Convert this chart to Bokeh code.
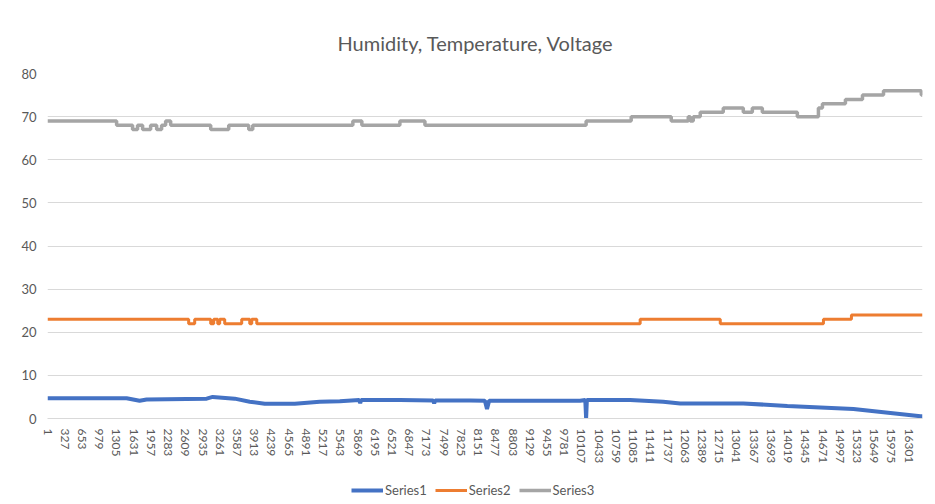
from bokeh.plotting import figure
from bokeh.layouts import column
from bokeh.models import Range1d, FixedTicker, Legend, LegendItem
from bokeh.embed import file_html
from bokeh.resources import INLINE

# ---- data ----
x_labels = [1 + 326 * k for k in range(51)]  # tick labels 1, 327, ... 16301
x_end = 16563

s1_x = [1, 1498, 1744, 1877, 3014, 3128, 3545, 3829, 4113, 4682, 5155, 5534,
        5900, 5920, 5940, 6671, 7300, 7320, 7340, 7998,
        8280, 8320, 8360, 8623, 10082, 10180, 10196, 10210, 10367, 11030, 11655, 11977,
        13171, 14005, 15256, 16526, 16563]
s1_y = [4.7, 4.7, 4.1, 4.4, 4.6, 5.0, 4.6, 3.9, 3.4, 3.4, 3.9, 4.0,
        4.3, 3.6, 4.3, 4.3, 4.2, 3.5, 4.2, 4.2,
        4.1, 2.2, 4.1, 4.1, 4.1, 4.3, 0.0, 4.3, 4.3, 4.3, 3.9, 3.5,
        3.5, 2.9, 2.2, 0.5, 0.5]

s2_x = [1, 2673, 2787, 3090, 3147, 3223, 3260, 3355, 3677, 3829, 3867, 3962, 11219, 12735,
        14688, 15218, 16563]
s2_y = [23, 22, 23, 22, 23, 22, 23, 22, 23, 22, 23, 22, 23, 22,
        23, 24, 24]

s3_x = [1, 1309, 1611, 1706, 1801, 1953, 2067, 2161, 2237, 2332, 3090, 3431, 3810, 3886,
        5781, 5951, 6671, 7145, 10196, 11049, 11807, 12129, 12167, 12224, 12356, 12792,
        13171, 13342, 13531, 14194, 14593, 14669, 15104, 15427, 15825, 16540, 16563]
s3_y = [69, 68, 67, 68, 67, 68, 67, 68, 69, 68, 67, 68, 67, 68,
        69, 68, 69, 68, 69, 70, 69, 70, 69, 70, 71, 72,
        71, 72, 71, 70, 72, 73, 74, 75, 76, 75, 75]

y_ticks = [0, 10, 20, 30, 40, 50, 60, 70, 80]
series_names = ["Series1", "Series2", "Series3"]
series_colors = ["#4472C4", "#ED7D31", "#A5A5A5"]

FONT = "Lato"
TXT = "#595959"

p = figure(frame_width=875, frame_height=345, output_backend="svg", toolbar_location=None,
           x_range=Range1d(1, x_end), y_range=Range1d(0, 80),
           min_border_left=47, min_border_right=5, min_border_top=73, min_border_bottom=62,
           title="Humidity, Temperature, Voltage")
p.outline_line_color = None
p.title.align = "left"
p.title.text_font = FONT
p.title.text_font_size = "20px"
p.title.text_font_style = "normal"
p.title.text_color = TXT
p.title.standoff = 38
p.title.offset = 290

p.line(s1_x, s1_y, line_color=series_colors[0], line_width=4)
p.step(s2_x, s2_y, mode="after", line_color=series_colors[1], line_width=3)
p.step(s3_x, s3_y, mode="after", line_color=series_colors[2], line_width=3.5)

p.xgrid.visible = False
p.ygrid.grid_line_color = "#D9D9D9"

p.xaxis.ticker = FixedTicker(ticks=x_labels)
p.xaxis.major_label_orientation = "vertical"
p.xaxis.major_tick_line_color = None
p.xaxis.minor_tick_line_color = None
p.xaxis.axis_line_color = "#D9D9D9"
p.xaxis.major_label_text_font = FONT
p.xaxis.major_label_text_font_size = "12px"
p.xaxis.major_label_text_color = TXT
p.xaxis.major_label_standoff = 4

p.yaxis.ticker = FixedTicker(ticks=y_ticks)
p.yaxis.axis_line_color = None
p.yaxis.major_tick_line_color = None
p.yaxis.minor_tick_line_color = None
p.yaxis.major_label_text_font = FONT
p.yaxis.major_label_text_font_size = "13px"
p.yaxis.major_label_text_color = TXT
p.yaxis.major_label_standoff = 5

# legend strip below the chart (same series, drawn out of view; only the legend shows)
leg = figure(width=927, height=20, output_backend="svg", toolbar_location=None,
             x_range=Range1d(0, 1), y_range=Range1d(-100, -99), min_border=0)
leg.axis.visible = False
leg.grid.visible = False
leg.outline_line_color = None
l1 = leg.line(s1_x, s1_y, line_color=series_colors[0], line_width=4)
l2 = leg.step(s2_x, s2_y, mode="after", line_color=series_colors[1], line_width=3)
l3 = leg.step(s3_x, s3_y, mode="after", line_color=series_colors[2], line_width=3.5)

legend = Legend(items=[LegendItem(label=series_names[0], renderers=[l1]),
                       LegendItem(label=series_names[1], renderers=[l2]),
                       LegendItem(label=series_names[2], renderers=[l3])],
                orientation="horizontal", location=(304, 2),
                border_line_color=None, background_fill_alpha=0,
                label_text_font=FONT, label_text_font_size="13px", label_text_color=TXT,
                glyph_width=32, glyph_height=14, label_height=14,
                label_standoff=2, spacing=8, padding=0, margin=0)
leg.add_layout(legend)

open("out.html", "w").write(file_html(column(p, leg, spacing=0), INLINE))
